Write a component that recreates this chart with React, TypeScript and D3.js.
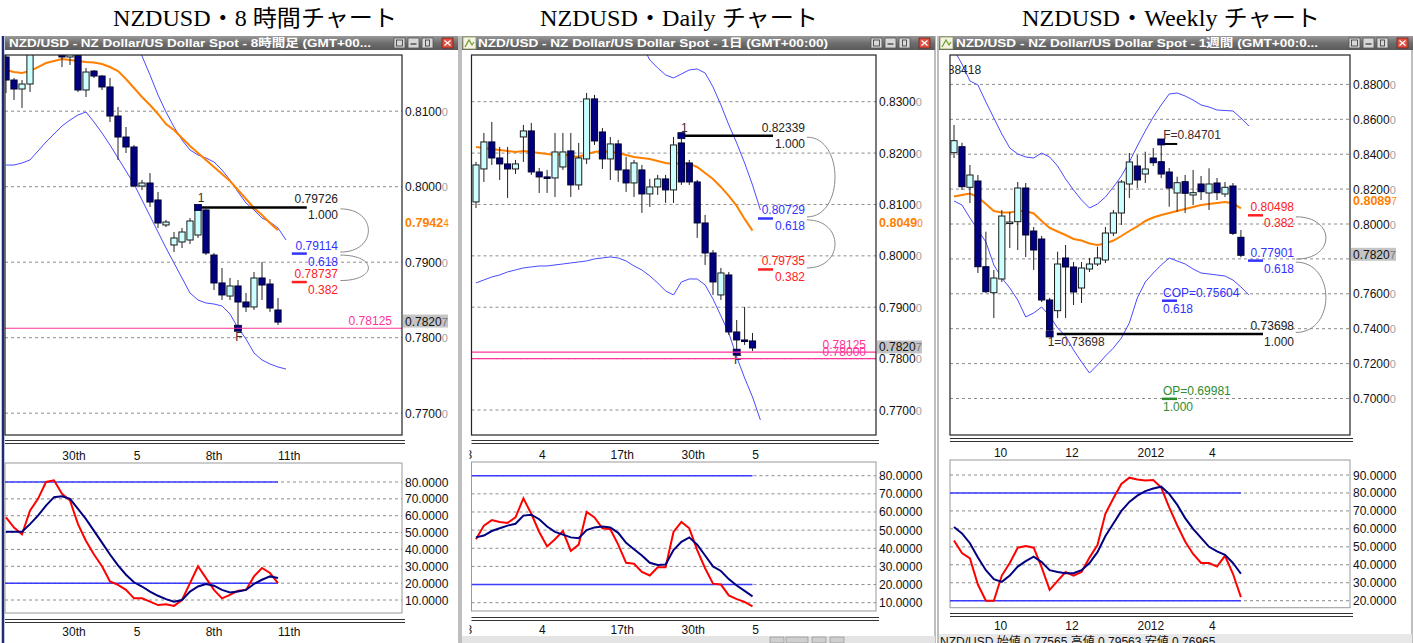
import React, { useEffect } from "react";
import * as d3 from "d3";

const W = 1413;
const H = 643;
const SANS = "'Liberation Sans', Arial, 'Noto Sans CJK JP', sans-serif";
const SERIF = "'Liberation Serif', 'Noto Sans CJK JP', serif";

// ---------------- 8-hour chart data ----------------
const h8Ohlc = [
  [0.81718, 0.81784, 0.81241, 0.81413],
  [0.81413, 0.8144, 0.81148, 0.81294],
  [0.81294, 0.81413, 0.81042, 0.8136],
  [0.8136, 0.81837, 0.81254, 0.81784],
  [0.81811, 0.82102, 0.81758, 0.82009],
  [0.82009, 0.82102, 0.81784, 0.81877],
  [0.81877, 0.82075, 0.81771, 0.8197],
  [0.81943, 0.82009, 0.81585, 0.81718],
  [0.81718, 0.81877, 0.81612, 0.81811],
  [0.81744, 0.81811, 0.81254, 0.81281],
  [0.81281, 0.81572, 0.81188, 0.81519],
  [0.81532, 0.81546, 0.8144, 0.81466],
  [0.81466, 0.81479, 0.81281, 0.81321],
  [0.81321, 0.8144, 0.80857, 0.80936],
  [0.80936, 0.81056, 0.80354, 0.80658],
  [0.80658, 0.80791, 0.80446, 0.80526],
  [0.80526, 0.80552, 0.79996, 0.80009],
  [0.80009, 0.80089, 0.79956, 0.80049],
  [0.80049, 0.80181, 0.79731, 0.79797],
  [0.79824, 0.7993, 0.79453, 0.79519],
  [0.79493, 0.79559, 0.79466, 0.79532],
  [0.79228, 0.794, 0.79135, 0.79321],
  [0.79268, 0.79453, 0.79188, 0.794],
  [0.79294, 0.79585, 0.79241, 0.79546],
  [0.7936, 0.79726, 0.79321, 0.79692],
  [0.79692, 0.797, 0.79095, 0.79122],
  [0.79095, 0.79122, 0.78632, 0.78725],
  [0.78725, 0.78923, 0.78499, 0.78566],
  [0.78552, 0.78791, 0.78499, 0.78685],
  [0.78685, 0.78764, 0.78125, 0.78473],
  [0.78473, 0.78592, 0.78341, 0.78407],
  [0.78407, 0.7887, 0.78367, 0.78791],
  [0.78791, 0.79003, 0.78499, 0.78698],
  [0.78711, 0.78777, 0.78341, 0.78393],
  [0.78367, 0.78526, 0.78168, 0.78207],
];
const h8Ma = [
  0.81546, 0.81519, 0.81506, 0.81532, 0.81585, 0.81638, 0.81665, 0.81691, 0.81678, 0.81665,
  0.81652, 0.81645, 0.81625, 0.81585, 0.81532, 0.81426, 0.81307, 0.81188, 0.81082, 0.80963,
  0.8083, 0.80751, 0.80645, 0.80539, 0.80446, 0.80354, 0.80261, 0.80168, 0.80075, 0.79956,
  0.79837, 0.79718, 0.79626, 0.7952, 0.79424,
];
const h8Upper = [
  null, null, null, null, null, null, null, null, null, null, null, null, null,
  0.82407, 0.82208, 0.82076, 0.81917, 0.81731, 0.8148, 0.81215, 0.80989, 0.80791, 0.80618,
  0.80486, 0.8042, 0.8038, 0.80327, 0.80221, 0.80089, 0.7993, 0.79784, 0.79691, 0.79585,
  0.79532, 0.79453, 0.79294,
];
const h8Lower = [
  0.80287, 0.80287, 0.80314, 0.80354, 0.80473, 0.80592, 0.80698, 0.80804, 0.80883, 0.8095,
  0.80989, 0.80857, 0.80711, 0.80552, 0.8038, 0.80208, 0.80036, 0.79824, 0.79612, 0.794,
  0.79188, 0.7899, 0.78791, 0.78592, 0.78499, 0.7846, 0.78446, 0.7842, 0.78314, 0.78129,
  0.77983, 0.77798, 0.77705, 0.77652, 0.77612, 0.77585,
];
const h8K = [59, 53, 49, 63, 70, 80, 81, 73, 69, 55, 45, 37, 30, 21, 19, 16, 11, 11, 9, 7, 7.5, 6.5, 10, 20, 30, 23, 16, 11, 13, 15.5, 16, 24, 29, 26, 20];
const h8D = [50.5, 50.5, 50.5, 55, 60, 66, 71, 71.5, 70, 64, 58, 51, 44, 37, 30.5, 25, 20.5, 18, 15, 12.5, 10.5, 9, 10, 15, 18, 19.5, 18.5, 16, 14.5, 15, 16, 19.5, 22, 24, 23];
const h8PriceTicks = [0.81, 0.8, 0.79, 0.78, 0.77];
const h8DateTicks = [8.5, 16.4, 26, 35.4];
const h8DateLabels = ["30th", "5", "8th", "11th"];
const h8Fibs = [
  { price: 0.79726, ratio: "1.000", color: "#000000" },
  { price: 0.79114, ratio: "0.618", color: "#3333ff" },
  { price: 0.78737, ratio: "0.382", color: "#ff2020" },
];
const h8Pink = [{ price: 0.78125, label: "0.78125" }];

// ---------------- Daily chart data ----------------
const dOhlc = [
  [0.81049, 0.81828, 0.80932, 0.81769],
  [0.81691, 0.82392, 0.81438, 0.82217],
  [0.82217, 0.82606, 0.81769, 0.81905],
  [0.81905, 0.8212, 0.81477, 0.81789],
  [0.81789, 0.8212, 0.81127, 0.81691],
  [0.81691, 0.81867, 0.81594, 0.81789],
  [0.82314, 0.82548, 0.81828, 0.82431],
  [0.82431, 0.82587, 0.81575, 0.81633],
  [0.81633, 0.81711, 0.81224, 0.81536],
  [0.81536, 0.81672, 0.81224, 0.81516],
  [0.81516, 0.82392, 0.81146, 0.82022],
  [0.8173, 0.82392, 0.81672, 0.82022],
  [0.82042, 0.82392, 0.81146, 0.8138],
  [0.8138, 0.82197, 0.81283, 0.81905],
  [0.81886, 0.83171, 0.81789, 0.83054],
  [0.83054, 0.83132, 0.82158, 0.82236],
  [0.82411, 0.82489, 0.81691, 0.81886],
  [0.81886, 0.82314, 0.81477, 0.82178],
  [0.82178, 0.82256, 0.81438, 0.81672],
  [0.81672, 0.81925, 0.81244, 0.81419],
  [0.81419, 0.81867, 0.81146, 0.81808],
  [0.81672, 0.81769, 0.80835, 0.81205],
  [0.81205, 0.81497, 0.80952, 0.81341],
  [0.81341, 0.81575, 0.81185, 0.81497],
  [0.81497, 0.81575, 0.8103, 0.81283],
  [0.81283, 0.82314, 0.8103, 0.82158],
  [0.82197, 0.82339, 0.8138, 0.81438],
  [0.81808, 0.81867, 0.8138, 0.81438],
  [0.81438, 0.81477, 0.80348, 0.8064],
  [0.8064, 0.80796, 0.79823, 0.80056],
  [0.80056, 0.80115, 0.79239, 0.79492],
  [0.79239, 0.79765, 0.79142, 0.79667],
  [0.79628, 0.79687, 0.7846, 0.78519],
  [0.78519, 0.78752, 0.78125, 0.78363],
  [0.78363, 0.79005, 0.78266, 0.78344],
  [0.78344, 0.78499, 0.78149, 0.78207],
];
const dMa = [
  0.8212, 0.821, 0.82081, 0.82061, 0.82042, 0.82022, 0.82042, 0.82022, 0.82003, 0.81983,
  0.81964, 0.81983, 0.81944, 0.81925, 0.81983, 0.82022, 0.82042, 0.82022, 0.82003, 0.81964,
  0.81925, 0.81905, 0.81886, 0.81847, 0.81808, 0.81789, 0.81808, 0.81789, 0.8173, 0.81613,
  0.81497, 0.81341, 0.81166, 0.80972, 0.80719, 0.8049,
];
const dUpper = [
  null, null, null, null, null, null, null, null, null, null, null, null, null, null, null,
  null, null, null, null, null, null,
  0.84105, 0.83813, 0.83657, 0.8352, 0.83462, 0.8354, 0.83618, 0.83637, 0.83559, 0.83287,
  0.82937, 0.82548, 0.82197, 0.81808, 0.8138, 0.80893,
];
const dLower = [
  0.79473, 0.79531, 0.79589, 0.79628, 0.79687, 0.79726, 0.79765, 0.79784, 0.79803, 0.79803,
  0.79823, 0.79842, 0.79862, 0.79881, 0.79901, 0.7994, 0.79959, 0.79979, 0.79959, 0.79901,
  0.79803, 0.79726, 0.79609, 0.79473, 0.79317, 0.79239, 0.79492, 0.7955, 0.7955, 0.79434,
  0.79161, 0.78831, 0.78499, 0.78033, 0.77624, 0.77254, 0.76807,
];
const dK = [45, 52.5, 55.5, 54.5, 54, 57, 67.5, 59, 49, 41, 45, 49.5, 38.5, 42, 60, 57, 51, 50.5, 42, 32, 31.5, 27, 25, 29.5, 29.5, 49, 54.5, 51, 39, 29, 20.5, 20, 14, 12, 10.5, 8];
const dD = [46, 47, 49.5, 51, 52.5, 53.5, 58, 58.5, 56, 52, 49, 47.5, 46, 45.5, 50, 51.5, 52, 51.5, 48.5, 43, 39.5, 36, 32, 30.8, 31, 39, 43.5, 46, 42, 36, 30, 27.5, 23, 19.5, 16.5, 13.5];
const dPriceTicks = [0.83, 0.82, 0.81, 0.8, 0.79, 0.78, 0.77];
const dDateTicks = [-0.9, 8.4, 18.5, 27.5, 35.4];
const dDateLabels = ["3", "4", "17th", "30th", "5"];
const dFibs = [
  { price: 0.82339, ratio: "1.000", color: "#000000" },
  { price: 0.80729, ratio: "0.618", color: "#3333ff" },
  { price: 0.79735, ratio: "0.382", color: "#ff2020" },
];
const dPink = [
  { price: 0.78125, label: "0.78125" },
  { price: 0.78, label: "0.78000" },
];

// ---------------- Weekly chart data ----------------
const wOhlc = [
  [0.84086, 0.85673, 0.83782, 0.84774],
  [0.8443, 0.84659, 0.81948, 0.82138],
  [0.82103, 0.83381, 0.81203, 0.82808],
  [0.82464, 0.82808, 0.77192, 0.77553],
  [0.77553, 0.79559, 0.76046, 0.7612],
  [0.76063, 0.77364, 0.74613, 0.76905],
  [0.76848, 0.80802, 0.76676, 0.80458],
  [0.80057, 0.80688, 0.78625, 0.80115],
  [0.80132, 0.82407, 0.7851, 0.82063],
  [0.82063, 0.8235, 0.78109, 0.7937],
  [0.79599, 0.79828, 0.77364, 0.7851],
  [0.7914, 0.79312, 0.7553, 0.75645],
  [0.75645, 0.7576, 0.73698, 0.73925],
  [0.75032, 0.78413, 0.74613, 0.77708],
  [0.78052, 0.78797, 0.74613, 0.77536],
  [0.77536, 0.77822, 0.75358, 0.76103],
  [0.76332, 0.77822, 0.75473, 0.77479],
  [0.77421, 0.78052, 0.77249, 0.77708],
  [0.77708, 0.78699, 0.77593, 0.78052],
  [0.77937, 0.79828, 0.77765, 0.79484],
  [0.79484, 0.80802, 0.79312, 0.8063],
  [0.8063, 0.82522, 0.79943, 0.82407],
  [0.82292, 0.84069, 0.8149, 0.83553],
  [0.83324, 0.83954, 0.82063, 0.82522],
  [0.82865, 0.84143, 0.8235, 0.83152],
  [0.83782, 0.84355, 0.83324, 0.83513],
  [0.8357, 0.84701, 0.82636, 0.82865],
  [0.8298, 0.83209, 0.80991, 0.82063],
  [0.81777, 0.82711, 0.80705, 0.82367],
  [0.82424, 0.82808, 0.8063, 0.81759],
  [0.81662, 0.83095, 0.81089, 0.81794],
  [0.82292, 0.82751, 0.81375, 0.81851],
  [0.81777, 0.83192, 0.80802, 0.82292],
  [0.8235, 0.82636, 0.81375, 0.81794],
  [0.81719, 0.82407, 0.81547, 0.82103],
  [0.82178, 0.8235, 0.7937, 0.79467],
  [0.79238, 0.79656, 0.78092, 0.78207],
];
const wMa = [
  0.81576, 0.81662, 0.81748, 0.81547, 0.81146, 0.80745, 0.80659, 0.80659, 0.80745, 0.80745,
  0.80602, 0.80172, 0.79771, 0.7957, 0.7937, 0.7914, 0.79054, 0.78883, 0.78797, 0.78883,
  0.79054, 0.79312, 0.79599, 0.79857, 0.80172, 0.80372, 0.80516, 0.8063, 0.80745, 0.8086,
  0.80974, 0.81089, 0.81146, 0.81203, 0.81261, 0.81186, 0.80897,
];
const wUpper = [
  0.89971, 0.89169, 0.88195, 0.87966, 0.86991, 0.86074, 0.85158, 0.84355, 0.84011, 0.8384,
  0.83782, 0.84069, 0.8384, 0.83324, 0.82579, 0.81948, 0.81375, 0.80917, 0.81146, 0.81547,
  0.8212, 0.82751, 0.83553, 0.8447, 0.8533, 0.86132, 0.8682, 0.8745, 0.87507, 0.87335,
  0.87106, 0.8682, 0.86705, 0.86533, 0.86504, 0.86476, 0.86074, 0.85616,
];
const wLower = [
  0.81318, 0.81089, 0.80344, 0.79656, 0.78968, 0.7765, 0.76905, 0.76332, 0.75645, 0.74671,
  0.749, 0.75244, 0.74728, 0.7404, 0.73582, 0.72779, 0.72092, 0.71461, 0.7192, 0.72436,
  0.72894, 0.73467, 0.74327, 0.7576, 0.76676, 0.77192, 0.7765, 0.78052, 0.7788, 0.77708,
  0.77421, 0.77192, 0.77135, 0.77077, 0.7702, 0.76791, 0.7639, 0.75931,
];
const wK = [53.5, 46.5, 43.5, 29, 20, 20, 34, 41, 49.5, 50.5, 49.5, 38.5, 26, 31, 36, 34, 36, 44, 51, 68.5, 77, 85, 88.5, 87.5, 87, 87.2, 83, 72, 62, 53, 46, 41, 41, 39, 45, 35, 22];
const wD = [61, 57.5, 52, 44, 37, 32, 30.5, 34, 39, 42, 44.5, 41.5, 37, 36, 35.3, 35.3, 37, 41, 47, 56, 63, 70, 75, 78.5, 81, 82.5, 83.5, 79.5, 73.5, 66, 60, 55, 50, 47.5, 45.5, 41, 35];
const wPriceTicks = [0.88, 0.86, 0.84, 0.82, 0.8, 0.78, 0.76, 0.74, 0.72, 0.7];
const wDateTicks = [5.85, 14.8, 24.7, 32.4];
const wDateLabels = ["10", "12", "2012", "4"];
const wFibs = [
  { price: 0.73698, ratio: "1.000", color: "#000000" },
  { price: 0.77901, ratio: "0.618", color: "#3333ff" },
  { price: 0.80498, ratio: "0.382", color: "#ff2020" },
];
const wProjections = [
  { price: 0.75604, name: "COP", ratio: "0.618", color: "#3333ff" },
  { price: 0.69981, name: "OP", ratio: "1.000", color: "#2e8b2e" },
];

const stochTicks8 = [80, 70, 60, 50, 40, 30, 20, 10];
const stochTicksW = [90, 80, 70, 60, 50, 40, 30, 20];

type Marker = { idx: number; price: number; text: string; anchor: string; dx: number; dy: number; tick?: boolean };

const panels = [
  {
    id: "h8",
    win: [3, 460], bar: [5, 458],
    title: "NZD/USD - NZ Dollar/US Dollar Spot - 8時間足 (GMT+00...", titleDx: 4, titleLen: 362, icon: false,
    plotX: [5, 402], x0: 6, step: 8,
    priceDomain: [0.8, 0.79], priceRange: [186.7, 262.2],
    stochBox: [463, 613], stochDomain: [80, 10], stochRange: [482, 600],
    dateY: [459.5, 635.5], dbl: [440.5, 619.5],
    ohlc: h8Ohlc, ma: h8Ma, upper: h8Upper, lower: h8Lower, k: h8K, d: h8D,
    priceTicks: h8PriceTicks, stochTicks: stochTicks8, dateTicks: h8DateTicks, dateLabels: h8DateLabels,
    fibs: h8Fibs, fibStart: 23.9, fibEnd: 37.6, fibText: 41.5, arcX: 41.8, bulge: 28,
    pink: h8Pink,
    markers: [
      { idx: 24, price: 0.79726, text: "1", anchor: "middle", dx: 3, dy: -5 },
      { idx: 29, price: 0.78125, text: "F", anchor: "middle", dx: 1, dy: 13 },
    ] as Marker[],
    projections: [], note: null, status: null,
  },
  {
    id: "d1",
    win: [461, 936], bar: [462, 935],
    title: "NZD/USD - NZ Dollar/US Dollar Spot - 1日 (GMT+00:00)", titleDx: 16, titleLen: 350, icon: true,
    plotX: [471.5, 876], x0: 476, step: 7.9,
    priceDomain: [0.83, 0.77], priceRange: [101.7, 410],
    stochBox: [462, 611], stochDomain: [80, 10], stochRange: [475.7, 602.7],
    dateY: [458.5, 633.5], dbl: [440.5, 617.5],
    ohlc: dOhlc, ma: dMa, upper: dUpper, lower: dLower, k: dK, d: dD,
    priceTicks: dPriceTicks, stochTicks: stochTicks8, dateTicks: dDateTicks, dateLabels: dDateLabels,
    fibs: dFibs, fibStart: 26.2, fibEnd: 37.6, fibText: 41.65, arcX: 41.9, bulge: 28,
    pink: dPink,
    markers: [
      { idx: 26, price: 0.82339, text: "1", anchor: "middle", dx: 3, dy: -4 },
      { idx: 33, price: 0.78125, text: "F", anchor: "middle", dx: 1, dy: 12 },
    ] as Marker[],
    projections: [], note: null, status: "bar",
  },
  {
    id: "w1",
    win: [938, 1413], bar: [939, 1413],
    title: "NZD/USD - NZ Dollar/US Dollar Spot - 1週間 (GMT+00:0...", titleDx: 17, titleLen: 362, icon: true,
    plotX: [950, 1350], x0: 954, step: 7.97,
    priceDomain: [0.8, 0.74], priceRange: [224, 328.7],
    stochBox: [460, 607.7], stochDomain: [90, 20], stochRange: [475, 600.7],
    dateY: [456.5, 629.5], dbl: [438.5, 613.5],
    ohlc: wOhlc, ma: wMa, upper: wUpper, lower: wLower, k: wK, d: wD,
    priceTicks: wPriceTicks, stochTicks: stochTicksW, dateTicks: wDateTicks, dateLabels: wDateLabels,
    fibs: wFibs, fibStart: 12.9, fibEnd: 38.77, fibText: 42.66, arcX: 42.9, bulge: 30,
    pink: [],
    markers: [
      { idx: 26, price: 0.84701, text: "F=0.84701", anchor: "start", dx: 2, dy: -3, tick: true },
      { idx: 12, price: 0.73698, text: "1=0.73698", anchor: "start", dx: -2, dy: 12 },
    ] as Marker[],
    projections: wProjections, projIdx: 26.1,
    note: { idx: 3.4, price: 0.88825, text: "0.88418" },
    status: "text",
  },
];

const DARK = "#000080";
const LIGHT = "#ccffff";
const BAND = "#4a4aff";
const MA = "#ff8000";

function Panel({ c }: { c: any }) {
  const xs = d3.scaleLinear().domain([0, 1]).range([c.x0, c.x0 + c.step]);
  const ys = d3.scaleLinear().domain(c.priceDomain).range(c.priceRange);
  const ss = d3.scaleLinear().domain(c.stochDomain).range(c.stochRange);
  const [px0, px1] = c.plotX;
  const [wx0, wx1] = c.win;
  const [bx0, bx1] = c.bar;
  const TOP = 55;
  const BOT = 435;
  const [sy0, sy1] = c.stochBox;
  const n = c.ohlc.length;
  const bw = c.step - 1.8;
  const pLine = d3
    .line<number | null>()
    .defined((v) => v != null)
    .x((_, i) => xs(i))
    .y((v) => ys(v as number));
  const sLine = d3
    .line<number>()
    .x((_, i) => xs(i))
    .y((v) => ss(v));
  const last = c.ohlc[n - 1][3] as number;
  const maLast = c.ma[c.ma.length - 1] as number;
  const lastStr = last.toFixed(5);
  const maStr = maLast.toFixed(5);
  const lastY = ys(last);
  const clipMain = `cm-${c.id}`;
  const clipSto = `cs-${c.id}`;
  const clipDate = `cd-${c.id}`;
  const fibsSorted = [...c.fibs].sort((a: any, b: any) => ys(a.price) - ys(b.price));
  const mainFib = c.fibs[0];
  const fx = xs(c.fibText);
  const fe = xs(c.fibEnd);
  const ax = xs(c.arcX);
  const kk = c.bulge / 0.75;
  const lastIdx = n - 1;
  const btnXs = [bx1 - 64, bx1 - 50, bx1 - 36];

  return (
    <g>
      <defs>
        <clipPath id={clipMain}>
          <rect x={px0} y={TOP} width={px1 - px0} height={BOT - TOP} />
        </clipPath>
        <clipPath id={clipSto}>
          <rect x={px0} y={sy0} width={px1 - px0} height={sy1 - sy0} />
        </clipPath>
        <clipPath id={clipDate}>
          <rect x={px0 - 2} y={440} width={wx1 - px0} height={203} />
        </clipPath>
      </defs>

      {/* window frame */}
      <line x1={wx0} x2={wx0} y1={36} y2={H} stroke={c.id === "h8" ? "#1c2a78" : "#a8a8a8"} strokeWidth={c.id === "h8" ? 2.5 : 1.5} />
      <line x1={wx1 - 1} x2={wx1 - 1} y1={36} y2={H} stroke="#a8a8a8" strokeWidth={1.5} />

      {/* title bar */}
      <rect x={bx0} y={36} width={bx1 - bx0} height={14} fill="url(#tbar)" />
      {c.icon && (
        <g>
          <rect x={bx0 + 1} y={37} width={13} height={12} fill="#f4f4e0" stroke="#8a9a60" strokeWidth={0.8} />
          <path d={`M${bx0 + 3},47 L${bx0 + 7},40 L${bx0 + 10},45 L${bx0 + 12},42`} stroke="#6a9a30" strokeWidth={1.2} fill="none" />
        </g>
      )}
      <text
        x={bx0 + c.titleDx}
        y={47}
        fill="#ffffff"
        fontFamily={SANS}
        fontWeight="bold"
        fontSize={11.5}
        textLength={c.titleLen}
        lengthAdjust="spacingAndGlyphs"
      >
        {c.title}
      </text>
      {btnXs.map((bx: number, i: number) => (
        <g key={i}>
          <rect x={bx} y={38} width={11} height={10} fill="#d8d8d8" stroke="#555" strokeWidth={0.8} />
          {i === 0 && <rect x={bx + 2.5} y={40} width={6} height={6} fill="none" stroke="#333" strokeWidth={0.8} />}
          {i === 1 && <line x1={bx + 2.5} x2={bx + 8.5} y1={44} y2={44} stroke="#333" strokeWidth={1.2} />}
          {i === 2 && <rect x={bx + 3.5} y={40} width={4} height={6} fill="none" stroke="#333" strokeWidth={0.8} />}
        </g>
      ))}
      <g>
        <rect x={bx1 - 16} y={38} width={11} height={10} fill="#e05040" stroke="#702020" strokeWidth={0.8} />
        <path d={`M${bx1 - 13.5},40.5 L${bx1 - 7.5},45.5 M${bx1 - 7.5},40.5 L${bx1 - 13.5},45.5`} stroke="#fff" strokeWidth={1.3} />
      </g>

      {/* ---------- main chart ---------- */}
      <rect x={px0} y={TOP} width={px1 - px0} height={BOT - TOP} fill="#ffffff" />
      {c.priceTicks.map((t: number) => (
        <line key={t} x1={px0} x2={px1} y1={ys(t)} y2={ys(t)} stroke="#8c8c8c" strokeDasharray="3,3" />
      ))}
      <g clipPath={`url(#${clipMain})`}>
        <path d={pLine(c.upper) || ""} fill="none" stroke={BAND} strokeWidth={1} />
        <path d={pLine(c.lower) || ""} fill="none" stroke={BAND} strokeWidth={1} />
        <path d={pLine(c.ma) || ""} fill="none" stroke={MA} strokeWidth={2} />
        {c.ohlc.map((q: number[], i: number) => {
          const [o, h, l, cl] = q;
          const up = cl >= o;
          const yTop = ys(Math.max(o, cl));
          const hh = Math.max(1.5, Math.abs(ys(o) - ys(cl)));
          return (
            <g key={i}>
              <line x1={xs(i)} x2={xs(i)} y1={ys(h)} y2={ys(l)} stroke="#222" strokeWidth={1} />
              <rect
                x={xs(i) - bw / 2}
                y={yTop}
                width={bw}
                height={hh}
                fill={up ? LIGHT : DARK}
                stroke={up ? "#1a1a1a" : "#000030"}
                strokeWidth={1}
              />
            </g>
          );
        })}

        {/* fibonacci */}
        <line
          x1={xs(c.fibStart)}
          x2={fe}
          y1={ys(mainFib.price)}
          y2={ys(mainFib.price)}
          stroke="#000"
          strokeWidth={2.5}
        />
        {c.fibs.slice(1).map((f: any) => (
          <line key={f.ratio} x1={fe - 15} x2={fe} y1={ys(f.price)} y2={ys(f.price)} stroke={f.color} strokeWidth={2.5} />
        ))}
        {c.fibs.map((f: any) => (
          <g key={"t" + f.ratio} fontFamily={SANS} fontSize={12} fill={f.color === "#000000" ? "#222" : f.color} textAnchor="end">
            <text x={fx} y={ys(f.price) - 4}>{f.price.toFixed(5)}</text>
            <text x={fx} y={ys(f.price) + 12}>{f.ratio}</text>
          </g>
        ))}
        {fibsSorted.slice(1).map((f: any, i: number) => {
          const a = ys(fibsSorted[i].price) + 1.5;
          const b = ys(f.price) - 1.5;
          return (
            <path key={"arc" + i} d={`M${ax},${a} C${ax + kk},${a} ${ax + kk},${b} ${ax},${b}`} fill="none" stroke="#8a8a8a" strokeWidth={1} />
          );
        })}

        {/* projections (weekly) */}
        {c.projections.map((p: any) => (
          <g key={p.name} fontFamily={SANS} fontSize={12} fill={p.color}>
            <line x1={xs(c.projIdx)} x2={xs(c.projIdx) + 15} y1={ys(p.price)} y2={ys(p.price)} stroke={p.color} strokeWidth={2.5} />
            <text x={xs(c.projIdx) + 1} y={ys(p.price) - 4}>{`${p.name}=${p.price.toFixed(5)}`}</text>
            <text x={xs(c.projIdx) + 1} y={ys(p.price) + 12}>{p.ratio}</text>
          </g>
        ))}

        {/* markers */}
        {c.markers.map((m: Marker, i: number) => (
          <g key={"m" + i}>
            {m.tick && (
              <line x1={xs(m.idx) + 3} x2={xs(m.idx) + 16} y1={ys(m.price) + 2} y2={ys(m.price) + 2} stroke="#000" strokeWidth={2} />
            )}
            <rect x={xs(m.idx) - 3.5} y={ys(m.price) - 3} width={7} height={6} fill={DARK} stroke="#000030" strokeWidth={0.8} />
            <text
              x={xs(m.idx) + m.dx}
              y={ys(m.price) + m.dy}
              fontFamily={SANS}
              fontSize={12}
              fill="#3a2a2a"
              textAnchor={m.anchor}
            >
              {m.text}
            </text>
          </g>
        ))}

        {c.note && (
          <text x={xs(c.note.idx)} y={ys(c.note.price) + 4} fontFamily={SANS} fontSize={12} fill="#222" textAnchor="end">
            {c.note.text}
          </text>
        )}

        {/* pink lines */}
        {c.pink.map((p: any) => (
          <g key={p.label}>
            <line x1={px0} x2={px1} y1={ys(p.price)} y2={ys(p.price)} stroke="#ff3399" strokeWidth={1.2} />
            <text x={px1 - 10} y={ys(p.price) - 3} fontFamily={SANS} fontSize={12} fill="#ff3399" textAnchor="end">
              {p.label}
            </text>
          </g>
        ))}
      </g>
      <rect x={px0} y={TOP} width={px1 - px0} height={BOT - TOP} fill="none" stroke="#222" strokeWidth={1.2} />

      {/* price axis labels */}
      {c.priceTicks
        .filter((t: number) => Math.abs(ys(t) - lastY) > 8)
        .map((t: number) => (
          <text key={"pl" + t} x={px1 + 3} y={ys(t) + 4.5} fontFamily={SANS} fontSize={12} fill="#111">
            {t.toFixed(4)}
            <tspan fill="#a0a0a0" fontSize={11}>0</tspan>
          </text>
        ))}
      <text x={px1 + 3} y={ys(maLast) - 8 + 4.5} fontFamily={SANS} fontSize={12.5} fontWeight="bold" fill={MA}>
        {maStr.slice(0, 6)}
        <tspan fontSize={10} fontWeight="normal">{maStr.slice(6)}</tspan>
      </text>
      <rect x={px1 + 1} y={lastY - 7.5} width={45} height={13} fill="#c4c4c4" />
      <text x={px1 + 3} y={lastY + 3.5} fontFamily={SANS} fontSize={12} fill="#111">
        {lastStr.slice(0, 6)}
        <tspan fill="#777" fontSize={11}>{lastStr.slice(6)}</tspan>
      </text>

      {/* separators */}
      {[c.dbl[0], c.dbl[1]].map((y: number, i: number) => (
        <g key={"dbl" + i}>
          <line x1={px0} x2={px1 + 3} y1={y} y2={y} stroke="#333" strokeWidth={1} />
          <line x1={px0} x2={px1 + 3} y1={y + 3} y2={y + 3} stroke="#333" strokeWidth={1} />
        </g>
      ))}

      {/* date labels */}
      <g clipPath={`url(#${clipDate})`} fontFamily={SANS} fontSize={12} fill="#111" textAnchor="middle">
        {c.dateTicks.map((t: number, i: number) => (
          <g key={"dt" + i}>
            <text x={xs(t)} y={c.dateY[0]}>{c.dateLabels[i]}</text>
            <text x={xs(t)} y={c.dateY[1]}>{c.dateLabels[i]}</text>
          </g>
        ))}
      </g>

      {/* ---------- stochastic ---------- */}
      <rect x={px0} y={sy0} width={px1 - px0} height={sy1 - sy0} fill="#fff" stroke="#9a9a9a" strokeWidth={1} />
      {c.stochTicks.map((t: number) => (
        <g key={"st" + t}>
          <line x1={px0} x2={px1} y1={ss(t)} y2={ss(t)} stroke="#8c8c8c" strokeDasharray="3,3" />
          <text x={px1 + 3} y={ss(t) + 4.5} fontFamily={SANS} fontSize={12} fill="#111">
            {t.toFixed(4)}
          </text>
        </g>
      ))}
      <g clipPath={`url(#${clipSto})`}>
        {[80, 20].map((v) => (
          <line key={"bl" + v} x1={px0} x2={xs(lastIdx)} y1={ss(v)} y2={ss(v)} stroke="#3c3cff" strokeWidth={1.5} />
        ))}
        <path d={sLine(c.k) || ""} fill="none" stroke="#ff0000" strokeWidth={2} />
        <path d={sLine(c.d) || ""} fill="none" stroke="#000080" strokeWidth={2} />
      </g>

      {/* bottom status */}
      {c.status === "bar" && (
        <g>
          <rect x={wx0 + 1} y={636} width={wx1 - wx0 - 2} height={7} fill="#e4e4e4" />
          {[770, 786, 812, 830].map((bx, i) => (
            <rect key={"sb" + i} x={bx} y={637} width={i === 1 ? 22 : 14} height={6} fill="#cfcfcf" stroke="#888" strokeWidth={0.6} />
          ))}
        </g>
      )}
      {c.status === "text" && (
        <g>
          <rect x={wx0 + 1} y={634} width={wx1 - wx0 - 2} height={9} fill="#e8e8e8" />
          <text x={wx0 + 2} y={646} fontFamily={SANS} fontSize={12} fill="#111">
            NZD/USD 始値 0.77565 高値 0.79563 安値 0.76965
          </text>
        </g>
      )}
    </g>
  );
}

export default function App() {
  useEffect(() => {
    document.body.style.margin = "0";
    document.body.style.overflow = "hidden";
  }, []);
  return (
    <svg
      width={W}
      height={H}
      viewBox={`0 0 ${W} ${H}`}
      style={{ position: "absolute", left: 0, top: 0, display: "block" }}
    >
      <defs>
        <linearGradient id="tbar" x1="0" y1="0" x2="0" y2="1">
          <stop offset="0" stopColor="#9a9a9a" />
          <stop offset="0.5" stopColor="#6e6e6e" />
          <stop offset="1" stopColor="#5a5a5a" />
        </linearGradient>
      </defs>
      <rect width={W} height={H} fill="#ffffff" />
      <g fontFamily={SERIF} fontSize={23} fill="#000">
        <text x={113} y={26} textLength={284} lengthAdjust="spacingAndGlyphs">NZDUSD・8 時間チャート</text>
        <text x={540} y={26} textLength={278} lengthAdjust="spacingAndGlyphs">NZDUSD・Daily チャート</text>
        <text x={1022} y={26} textLength={298} lengthAdjust="spacingAndGlyphs">NZDUSD・Weekly チャート</text>
      </g>
      {panels.map((p) => (
        <Panel key={p.id} c={p} />
      ))}
    </svg>
  );
}
